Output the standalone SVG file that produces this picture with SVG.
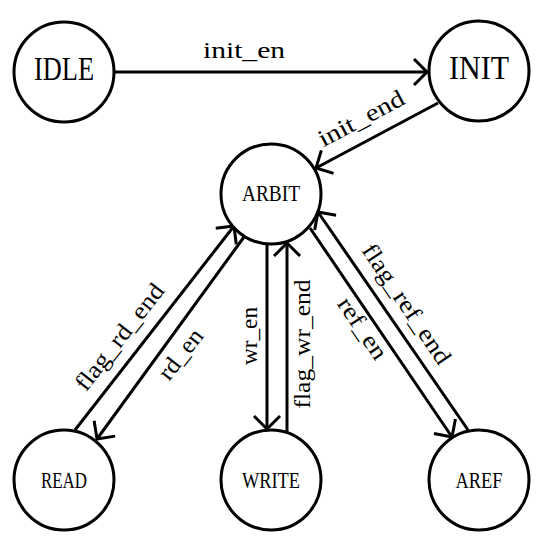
<svg xmlns="http://www.w3.org/2000/svg" width="545" height="544" viewBox="0 0 545 544">
<style>
.node circle{fill:#fff;stroke:#000;stroke-width:3}
.big{font-family:"Liberation Serif","DejaVu Serif",serif;font-size:28px;fill:#000;text-anchor:middle}
.small{font-family:"Liberation Serif","DejaVu Serif",serif;font-size:20px;fill:#000;text-anchor:middle}
.edge{fill:none;stroke:#000;stroke-width:3;marker-end:url(#arr)}
.lbl{font-family:"Liberation Serif","DejaVu Serif",serif;font-size:20px;fill:#000;text-anchor:middle}
</style>
<defs>
<marker id="arr" markerUnits="userSpaceOnUse" markerWidth="40" markerHeight="40" refX="0" refY="0" orient="auto" overflow="visible">
<path d="M-13,-13 L0,0 L-13,13" fill="none" stroke="#000" stroke-width="3"/>
</marker>
</defs>
<rect width="545" height="544" fill="#fff"/>
<g id="connectors">
<path class="edge" d="M115,72 L427,72"/>
<path class="edge" d="M438,103 L316,168"/>
<path class="edge" d="M244,237 L97,439"/>
<path class="edge" d="M75,430 L234,226"/>
<path class="edge" d="M267,244 L267,429"/>
<path class="edge" d="M287,432 L287,243"/>
<path class="edge" d="M310,228 L452,437"/>
<path class="edge" d="M468,430 L318,212"/>
<text class="lbl" transform="translate(244,58) scale(1,1.2)" x="0" y="0" textLength="82" lengthAdjust="spacingAndGlyphs">init_en</text>
<text class="lbl" transform="translate(362,120) rotate(-28) scale(1,1.2)" x="0" y="5" textLength="94" lengthAdjust="spacingAndGlyphs">init_end</text>
<text class="lbl" transform="translate(121,338) rotate(-52) scale(1,1.2)" x="0" y="5" textLength="129" lengthAdjust="spacingAndGlyphs">flag_rd_end</text>
<text class="lbl" transform="translate(183,356) rotate(-52) scale(1,1.2)" x="0" y="4" textLength="58" lengthAdjust="spacingAndGlyphs">rd_en</text>
<text class="lbl" transform="translate(251,336) rotate(-90) scale(1,1.2)" x="0" y="5" textLength="58" lengthAdjust="spacingAndGlyphs">wr_en</text>
<text class="lbl" transform="translate(304,344) rotate(-90) scale(1,1.2)" x="0" y="5" textLength="129" lengthAdjust="spacingAndGlyphs">flag_wr_end</text>
<text class="lbl" transform="translate(360,330) rotate(56) scale(1,1.2)" x="0" y="4" textLength="70" lengthAdjust="spacingAndGlyphs">ref_en</text>
<text class="lbl" transform="translate(405,305) rotate(56) scale(1,1.2)" x="0" y="5" textLength="140" lengthAdjust="spacingAndGlyphs">flag_ref_end</text>
</g>
<g id="IDLE" class="node"><circle cx="64" cy="72" r="50"/><text class="big" transform="translate(64,80) scale(1,1.2)" textLength="60" lengthAdjust="spacingAndGlyphs">IDLE</text></g>
<g id="INIT" class="node"><circle cx="479" cy="71" r="50"/><text class="big" transform="translate(479,79) scale(1,1.2)" textLength="60" lengthAdjust="spacingAndGlyphs">INIT</text></g>
<g id="ARBIT" class="node"><circle cx="271" cy="194" r="50"/><text class="small" transform="translate(271,201) scale(1,1.2)" textLength="58" lengthAdjust="spacingAndGlyphs">ARBIT</text></g>
<g id="READ" class="node"><circle cx="64" cy="480" r="50"/><text class="small" transform="translate(64,488) scale(1,1.2)" textLength="46" lengthAdjust="spacingAndGlyphs">READ</text></g>
<g id="WRITE" class="node"><circle cx="271" cy="480" r="50"/><text class="small" transform="translate(271,488) scale(1,1.2)" textLength="58" lengthAdjust="spacingAndGlyphs">WRITE</text></g>
<g id="AREF" class="node"><circle cx="479" cy="480" r="50"/><text class="small" transform="translate(479,488) scale(1,1.2)" textLength="47" lengthAdjust="spacingAndGlyphs">AREF</text></g>
</svg>
